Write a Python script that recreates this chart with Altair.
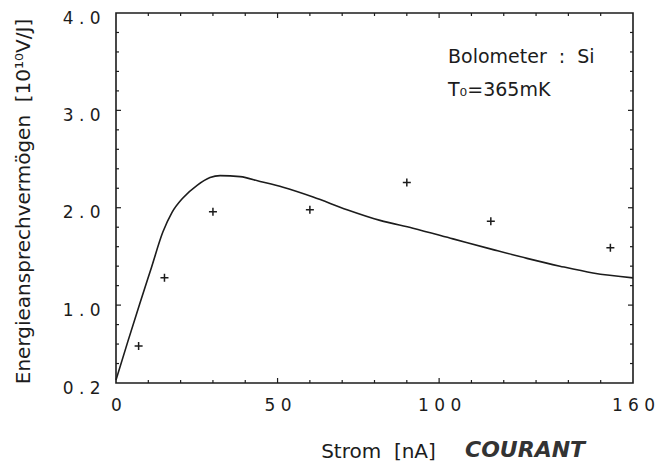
import altair as alt
import pandas as pd

# measured data points (crosses)
current_nA = [7, 15, 30, 60, 90, 116, 153]
response = [0.58, 1.28, 1.96, 1.98, 2.26, 1.86, 1.59]

# theoretical curve
curve_x = [0, 3.7, 7.4, 11.0, 14.5, 17.3, 20.7, 25.1, 29.1, 32.2, 38.4, 44.6,
           51.7, 61.0, 71.5, 81.7, 91.9, 104.3, 116.7, 127.2, 137.4, 147.6, 160]
curve_y = [0.23, 0.63, 1.02, 1.39, 1.75, 1.95, 2.10, 2.23, 2.31, 2.33, 2.32, 2.27,
           2.21, 2.11, 1.98, 1.87, 1.79, 1.68, 1.57, 1.48, 1.40, 1.33, 1.28]

# axis ticks / labels
x_label_values = [0, 50, 100, 160]
y_label_values = [0.2, 1.0, 2.0, 3.0, 4.0]
x_minor = [v for v in range(10, 160, 10) if v not in (50, 100)]
x_major = [50, 100]
y_minor = [round(0.2 * k, 1) for k in range(2, 20) if round(0.2 * k, 1) not in (1.0, 2.0, 3.0)]
y_major = [1.0, 2.0, 3.0]

NB = "\u00a0"
annot_lines = ["Bolometer" + NB * 2 + ":" + NB * 2 + "Si", "T\u2080=365mK"]
x_title = "Strom" + NB * 2 + "[nA]"
y_title = "Energieansprechverm\u00f6gen" + NB * 2 + "[10\u00b9\u2070V/J]"
hand_note = "COURANT"

FONT = "DejaVu Sans"
INK = "#1c1c1c"

xs = alt.Scale(domain=[0, 160], nice=False, zero=False)
ys = alt.Scale(domain=[0.2, 4.0], nice=False, zero=False)

pts = pd.DataFrame({"x": current_nA, "y": response})
cur = pd.DataFrame({"x": curve_x, "y": curve_y})

x_axis = alt.Axis(values=x_label_values, labelExpr="join(split(format(datum.value,'d'),''),' ')",
                  ticks=False, tickSize=0, domain=False, grid=False, labelPadding=14,
                  labelFontSize=17, labelFont=FONT, labelColor=INK, labelFlush=False,
                  title=x_title, titleFont=FONT, titleFontSize=20, titleFontWeight="normal",
                  titleColor=INK, titleX=262, titleY=74, titleAlign="center",
                  titleBaseline="alphabetic")
y_axis = alt.Axis(values=y_label_values, labelExpr="replace(format(datum.value,'.1f'),'.',' . ')",
                  ticks=False, tickSize=0, domain=False, grid=False, labelPadding=16,
                  labelFontSize=17, labelFont=FONT, labelColor=INK, labelOffset=5, labelFlush=False,
                  title=y_title, titleFont=FONT, titleFontSize=20, titleFontWeight="normal",
                  titleColor=INK, titleX=-93, titleY=188, titleAngle=-90, titleAlign="center",
                  titleBaseline="middle")

line = alt.Chart(cur).mark_line(color=INK, strokeWidth=1.6, interpolate="monotone").encode(
    x=alt.X("x:Q", scale=xs, axis=x_axis),
    y=alt.Y("y:Q", scale=ys, axis=y_axis),
)

points = alt.Chart(pts).mark_point(shape="M-1,0L1,0M0,-1L0,1", size=64, filled=False,
                                   color=INK, strokeWidth=1.5, opacity=1).encode(
    x=alt.X("x:Q", scale=xs), y=alt.Y("y:Q", scale=ys))

def yticks(vals, base, off):
    return alt.Chart(pd.DataFrame({"v": vals})).mark_rule(color=INK, strokeWidth=1.2, x2Offset=off).encode(
        y=alt.Y("v:Q", scale=ys), x=alt.datum(base, scale=xs), x2=alt.datum(base))

def xticks(vals, base, off):
    return alt.Chart(pd.DataFrame({"v": vals})).mark_rule(color=INK, strokeWidth=1.2, y2Offset=off).encode(
        x=alt.X("v:Q", scale=xs), y=alt.datum(base, scale=ys), y2=alt.datum(base))

tick_layers = [
    yticks(y_minor, 0, 3), yticks(y_major, 0, 5),
    yticks(y_minor, 160, -3), yticks(y_major, 160, -5),
    xticks(x_minor, 0.2, -3), xticks(x_major, 0.2, -5),
    xticks(x_minor, 4.0, 3), xticks(x_major, 4.0, 5),
]

ann1 = alt.Chart(pd.DataFrame({"t": [annot_lines[0]]})).mark_text(
    align="left", baseline="alphabetic", font=FONT, fontSize=19, color=INK).encode(
    x=alt.value(332), y=alt.value(50), text="t:N")
ann2 = alt.Chart(pd.DataFrame({"t": [annot_lines[1]]})).mark_text(
    align="left", baseline="alphabetic", font=FONT, fontSize=19, color=INK).encode(
    x=alt.value(332), y=alt.value(83), text="t:N")
hand = alt.Chart(pd.DataFrame({"t": [hand_note]})).mark_text(
    align="left", baseline="alphabetic", font=FONT, fontSize=22, fontStyle="italic",
    fontWeight="bold", color="#333").encode(
    x=alt.value(349), y=alt.value(444), text="t:N")

chart = alt.layer(line, points, *tick_layers, ann1, ann2, hand).properties(
    width=517, height=370,
    autosize=alt.AutoSizeParams(type="none"),
    padding={"left": 116, "top": 13, "right": 29, "bottom": 81},
    background="white",
).configure_view(stroke=INK, strokeWidth=1.6)

chart.save("out.html", embed_options={"renderer": "svg", "actions": False})
